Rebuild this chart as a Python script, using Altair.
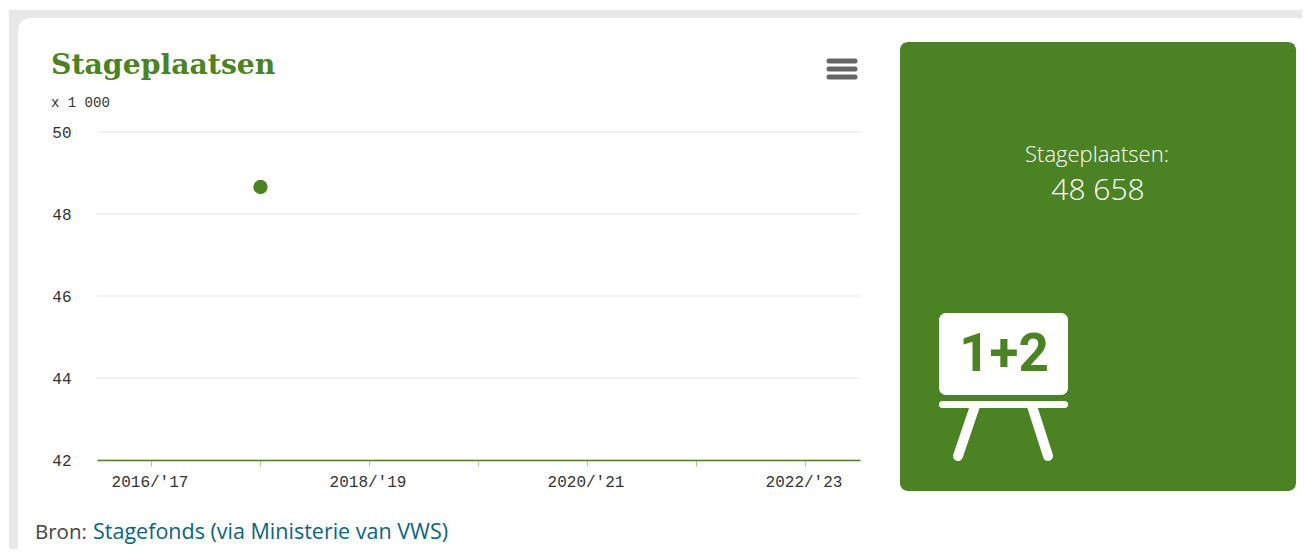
import altair as alt
import pandas as pd

seasons = ["2016/'17", "2017/'18", "2018/'19", "2019/'20", "2020/'21", "2021/'22", "2022/'23"]
stageplaatsen = [None, 48.658, None, None, None, None, None]
y_ticks = [42, 44, 46, 48, 50]

GREEN = "#4b8224"
TEXT = "#333333"
OX, OY = 97, 132   # page position of the plot area


def X(px):
    return alt.value(px - OX)


def Y(py):
    return alt.value(py - OY)


one = alt.Data(values=[{"k": 1}])


def box(x0, y0, x1, y1, color, radius=0):
    return alt.Chart(one).mark_rect(color=color, cornerRadius=radius).encode(
        x=X(x0), x2=X(x1), y=Y(y0), y2=Y(y1))


def line(x0, y0, x1, y1, color, width, cap="round"):
    return alt.Chart(one).mark_rule(color=color, strokeWidth=width, strokeCap=cap).encode(
        x=X(x0), x2=X(x1), y=Y(y0), y2=Y(y1))


def label(txt, x, y, size, color, font, align="left", weight="normal"):
    return alt.Chart(one).mark_text(
        text=txt, fontSize=size, color=color, font=font, align=align,
        baseline="middle", fontWeight=weight).encode(x=X(x), y=Y(y))


df = pd.DataFrame({"season": seasons, "value": stageplaatsen}).dropna()

x_enc = alt.X("season:N", scale=alt.Scale(type="point", domain=seasons, padding=0.5), title=None,
              axis=alt.Axis(labelExpr="parseInt(substring(datum.label,0,4)) % 2 == 0 ? datum.label : ''",
                            labelAngle=0, labelOverlap=False, labelFont="Liberation Mono", labelFontSize=16,
                            labelColor=TEXT, labelPadding=7, labelOffset=-1, tickOffset=-1,
                            domainColor=GREEN, domainWidth=1.5,
                            tickColor="#a9c78f", tickSize=6, tickWidth=1, grid=False, zindex=1))
y_axis = alt.Axis(values=y_ticks, domain=False, ticks=False, grid=False, labelPadding=26,
                  labelFont="Liberation Mono", labelFontSize=16, labelColor=TEXT, zindex=1)
y_scale = alt.Scale(domain=[42, 50], nice=False)

grid = alt.Chart(pd.DataFrame({"tick": y_ticks})).mark_rule(color="#e8e8e8", strokeWidth=1.2).encode(
    y=alt.Y("tick:Q", scale=y_scale, axis=y_axis, title=None))

point = alt.Chart(df).mark_point(filled=True, color=GREEN, size=205, opacity=1).encode(
    x=x_enc, y=alt.Y("value:Q", scale=y_scale, axis=y_axis, title=None))

layers = [
    box(9, 10, 1320, 570, "#e8e8e8"),
    box(18, 18, 1310, 590, "#ffffff", 12),
    grid,
    point,
    label("Stageplaatsen", 51, 65.5, 28.3, GREEN, "DejaVu Serif", weight="bold"),
    label("x 1 000", 51, 102.5, 14, TEXT, "Liberation Mono"),
    line(829, 61, 855, 61, "#666666", 5),
    line(829, 69, 855, 69, "#666666", 5),
    line(829, 77, 855, 77, "#666666", 5),
    box(900, 42, 1296, 491, GREEN, 8),
    label("Stageplaatsen:", 1097, 155, 22, "#ffffff", "Open Sans", "center", 300),
    label("48 658", 1098, 191, 30, "#ffffff", "Open Sans", "center", 300),
    box(939, 313, 1068, 395, "#ffffff", 7),
    label("1+2", 1004, 355, 53, GREEN, "Roboto", "center", "bold"),
    box(939, 401, 1068, 408, "#ffffff", 3),
    line(975, 406, 958, 456, "#ffffff", 10),
    line(1032, 406, 1048, 456, "#ffffff", 10),
    label("Bron:", 35, 533, 20.5, "#444444", "Open Sans"),
    label("Stagefonds (via Ministerie van VWS)", 93, 533, 21.5, "#0b6480", "Open Sans"),
]

chart = alt.layer(*layers).properties(
    width=763, height=328,
    autosize=alt.AutoSizeParams(type="none"),
    padding={"left": OX - 8, "top": OY - 8, "right": 1294 - (OX - 8) - 763, "bottom": 541 - (OY - 8) - 328},
    background="#ffffff",
).configure_view(stroke=None)

chart.save("out.html", embed_options={"renderer": "svg", "actions": False})
